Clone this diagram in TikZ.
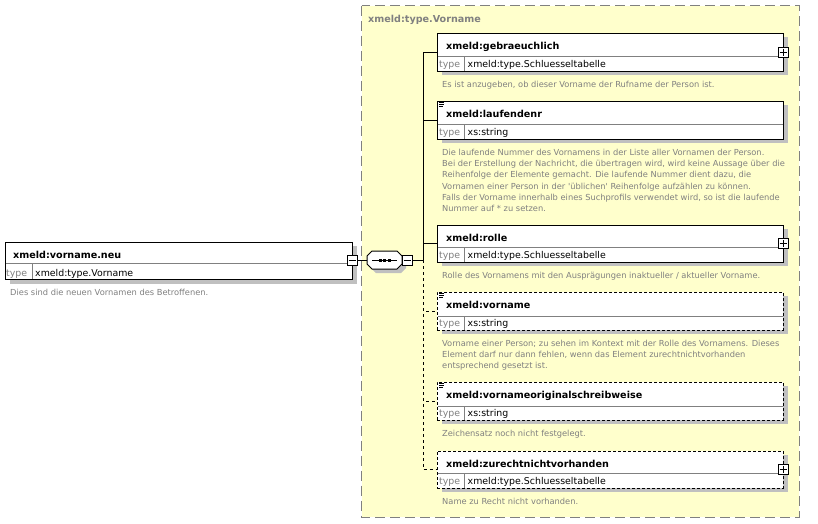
\documentclass[tikz,border=0pt]{standalone}
\usepackage{fontspec}
\setmainfont{DejaVu Sans}[Ligatures=TeXOff]
\definecolor{ybg}{HTML}{FFFFCC}
\definecolor{dg}{HTML}{808080}
\definecolor{sh}{HTML}{C0C0C0}
\tikzset{
 elbox/.style={draw=black,fill=white,line width=1pt,inner sep=0pt,outer sep=0pt,anchor=north west},
 optbox/.style={elbox,dash pattern=on 3pt off 2pt},
 nametext/.style={font=\fontsize{9.6}{11}\selectfont\bfseries,anchor=base west,inner sep=0pt},
 typelbl/.style={font=\fontsize{9.4}{11}\selectfont,text=dg,anchor=base west,inner sep=0pt},
 typeval/.style={font=\fontsize{9.4}{11}\selectfont,anchor=base west,inner sep=0pt},
 desc/.style={font=\fontsize{8.3}{11.3}\selectfont,text=dg,anchor=north west,inner sep=0pt,align=left},
 pmbox/.style={draw=black,fill=white,line width=1pt,minimum size=10pt,inner sep=0pt,outer sep=0pt},
 pmline/.style={line width=1pt},
 conn/.style={line width=1pt},
 optconn/.style={line width=1pt,dash pattern=on 3pt off 3pt},
 divline/.style={draw=dg,line width=1pt},
 icon/.style={line width=0.8pt},
}
% #1 id, #2 top, #3 divider, #4 bottom, #5 name, #6 type, #7 box style, #8 description
\newcommand\mkelem[8]{%
 \fill[sh] (442,#2+4) rectangle (788,#4+4);
 \node[#7,minimum width=346pt,minimum height={(#4-#2)*1pt}] (#1) at (437,#2) {};
 \draw[divline] (437.5,#3) -- (782.5,#3) (464,#3) -- (464,#4-0.5);
 \node[nametext] (#1-name) at (446,#2+16) {#5};
 \node[typelbl] (#1-tl) at (439,#4-3.5) {type};
 \node[typeval] (#1-tv) at (467.5,#4-3.5) {#6};
 \node[desc] (#1-desc) at (442,#4+8) {\strut#8};
}
\newcommand\mkplus[1]{%
 \node[pmbox] (#1-p) at (#1.east) {};
 \draw[pmline] (#1-p.center) ++(-3.5,0) -- ++(7,0) (#1-p.center) ++(0,-3.5) -- ++(0,7);
}
\newcommand\mkicon[1]{%
 \draw[icon] (439,#1+1) -- ++(5,0) (439,#1+3) -- ++(5,0) (439,#1+5) -- ++(4,0);
}
\newcommand\octa[1]{%
 (372+#1,251+#1) -- (397+#1,251+#1) -- (402+#1,256+#1) -- (402+#1,264+#1) -- (397+#1,269+#1) -- (372+#1,269+#1) -- (367+#1,264+#1) -- (367+#1,256+#1) -- cycle}
\begin{document}
\begin{tikzpicture}[x=1pt,y=-1pt]
\useasboundingbox (0,0) rectangle (818,523);
\fill[white] (0,0) rectangle (818,523);
% type frame
\draw[draw=dg,fill=ybg,line width=1pt,dash pattern=on 10pt off 5pt] (361.5,5.5) rectangle (799,517);
\node[font=\fontsize{9.6}{11}\selectfont\bfseries,text=dg,anchor=base west,inner sep=0pt] (title) at (368,22) {xmeld:type.Vorname};
% root element
\fill[sh] (10,246) rectangle (357,283.5);
\node[elbox,minimum width=347pt,minimum height=37pt] (root) at (5,242) {};
\draw[divline] (5.5,263) -- (351.5,263) (32,263) -- (32,278.5);
\node[nametext] (root-name) at (13,258) {xmeld:vorname.neu};
\node[typelbl] (root-tl) at (6,276) {type};
\node[typeval] (root-tv) at (35,276) {xmeld:type.Vorname};
\node[desc] (root-desc) at (10,287) {\strut Dies sind die neuen Vornamen des Betroffenen.};
\node[pmbox] (root-m) at (352,260) {};
\draw[pmline] (root-m.center) ++(-3.5,0) -- ++(7,0);
% sequence compositor
\fill[sh] \octa{4};
\draw[line width=1pt,fill=white] \octa{0};
\node[inner sep=0pt,outer sep=0pt,minimum width=35pt,minimum height=18pt] (seq) at (384.5,260) {};
\draw[line width=1pt] (seq.center) ++(-12.5,0) -- ++(25,0);
\fill (seq.center) ++(-6,-1.5) rectangle ++(3,3);
\fill (seq.center) ++(-1.5,-1.5) rectangle ++(3,3);
\fill (seq.center) ++(3,-1.5) rectangle ++(3,3);
\node[pmbox] (seq-m) at (407,260) {};
\draw[pmline] (seq-m.center) ++(-3.5,0) -- ++(7,0);
\draw[conn] (root-m.east) -- (seq.west);
% children
\mkelem{g}{33}{56}{71}{xmeld:gebraeuchlich}{xmeld:type.Schluesseltabelle}{elbox}{Es ist anzugeben, ob dieser Vorname der Rufname der Person ist.}
\mkplus{g}
\mkelem{l}{101}{124}{139}{xmeld:laufendenr}{xs:string}{elbox}{Die laufende Nummer des Vornamens in der Liste aller Vornamen der Person.\\Bei der Erstellung der Nachricht, die übertragen wird, wird keine Aussage über die\\Reihenfolge der Elemente gemacht. Die laufende Nummer dient dazu, die\\Vornamen einer Person in der 'üblichen' Reihenfolge aufzählen zu können.\\Falls der Vorname innerhalb eines Suchprofils verwendet wird, so ist die laufende\\Nummer auf * zu setzen.}
\mkicon{101}
\mkelem{r}{225}{247}{262}{xmeld:rolle}{xmeld:type.Schluesseltabelle}{elbox}{Rolle des Vornamens mit den Ausprägungen inaktueller / aktueller Vorname.}
\mkplus{r}
\mkelem{v}{292}{316}{330}{xmeld:vorname}{xs:string}{optbox}{Vorname einer Person; zu sehen im Kontext mit der Rolle des Vornamens. Dieses\\Element darf nur dann fehlen, wenn das Element zurechtnichtvorhanden\\entsprechend gesetzt ist.}
\mkicon{292}
\mkelem{o}{382}{406}{420}{xmeld:vornameoriginalschreibweise}{xs:string}{optbox}{Zeichensatz noch nicht festgelegt.}
\mkicon{382}
\mkelem{z}{451}{473}{488}{xmeld:zurechtnichtvorhanden}{xmeld:type.Schluesseltabelle}{optbox}{Name zu Recht nicht vorhanden.}
\mkplus{z}
% connectors
\coordinate (bus) at (423,260);
\draw[conn] (seq-m.east) -- (bus);
\draw[conn] (bus) |- (g.west);
\draw[conn] (bus) |- (l.west);
\draw[conn] (bus) |- (r.west);
\draw[optconn] (bus) |- (v.west);
\draw[optconn] (bus) |- (o.west);
\draw[optconn] (bus) |- (z.west);
\end{tikzpicture}
\end{document}
